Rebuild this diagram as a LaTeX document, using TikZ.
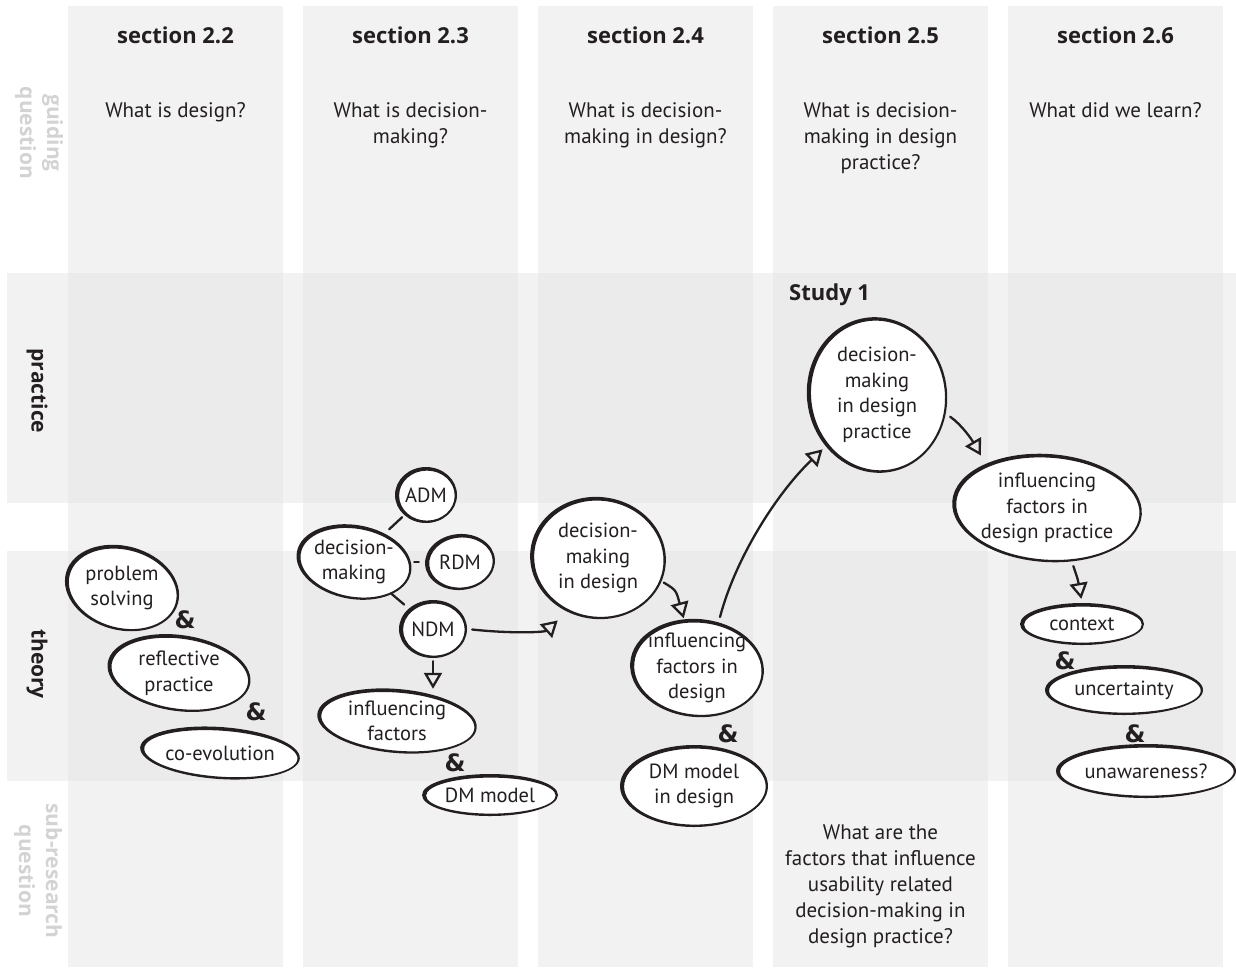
\documentclass[tikz,border=0pt]{standalone}
\usepackage{fontspec}
\setmainfont{PT Sans}
\newfontfamily\headfont{Open Sans}
\newfontfamily\ampfont{DejaVu Sans}
\usetikzlibrary{arrows.meta, shapes.geometric}

\definecolor{ink}{HTML}{231F20}
\definecolor{lane}{HTML}{F2F2F2}
\definecolor{cross}{HTML}{EBEBEB}
\definecolor{faint}{HTML}{D3D3D3}

\tikzset{
  head/.style={font=\headfont\bfseries\fontsize{22}{26}\selectfont, text=ink, inner sep=0pt, anchor=base},
  question/.style={font=\fontsize{21}{26}\selectfont, text=ink, align=center, inner sep=0pt, anchor=north},
  sidelabel/.style={font=\headfont\bfseries\fontsize{21}{27}\selectfont, align=center, rotate=-90, inner sep=0pt},
  bubble/.style={shape=ellipse, inner sep=0pt, font=\fontsize{20.5}{25.5}\selectfont, text=ink, align=center},
  link/.style={draw=ink, line width=2.3pt, line cap=round},
  flow/.style={link, -{Triangle[open, length=16pt, width=18pt, line width=2.3pt]}},
  amp/.style={font=\ampfont\bfseries\fontsize{24}{24}\selectfont, text=ink, inner sep=0pt},
}

% ellipse with a pen-like stroke of varying thickness, plus its text node
\newcommand{\inkbubble}[7]{% name, x, y, rx, ry, tilt, text
  \fill[white, rotate around={#6:(#2,#3)}] (#2,#3) ellipse [x radius=#4pt, y radius=#5pt];
  \fill[ink, even odd rule, rotate around={#6:(#2,#3)}]
    (#2,#3) ellipse [x radius=#4pt, y radius=#5pt]
    (#2+0.9,#3+0.6) ellipse [x radius=#4pt-3.2pt, y radius=#5pt-3pt];
  \node[bubble, minimum width=2*#4pt, minimum height=2*#5pt] (#1) at (#2,#3) {#7};
}

\begin{document}
\begin{tikzpicture}[x=1pt, y=-1pt]
\useasboundingbox (0,0) rectangle (1236,967);
\fill[white] (0,0) rectangle (1236,967);

% horizontal lanes: practice and theory
\fill[lane] (7,273) rectangle (1236,503);
\fill[lane] (7,551) rectangle (1236,781);

% section columns and their crossings with the lanes
\foreach \l in {68,303,538,773,1008} {
  \fill[lane] (\l,6) rectangle ({\l+215},967);
  \fill[cross] (\l,273) rectangle ({\l+215},503);
  \fill[cross] (\l,551) rectangle ({\l+215},781);
}

% row labels
\node[sidelabel, text=faint] (lguide) at (39,133) {guiding\\question};
\node[sidelabel, text=ink] (lpract) at (37,391) {practice};
\node[sidelabel, text=ink] (ltheory) at (37,664) {theory};
\node[sidelabel, text=faint] (lsub) at (38,871) {sub-research\\question};

% column headers
\node[head] (h22) at (175.5,43) {section 2.2};
\node[head] (h23) at (410.5,43) {section 2.3};
\node[head] (h24) at (645.5,43) {section 2.4};
\node[head] (h25) at (880.5,43) {section 2.5};
\node[head] (h26) at (1115.5,43) {section 2.6};

% guiding questions
\node[question] (q22) at (175.5,102) {What is design?};
\node[question] (q23) at (410.5,102) {What is decision-\\making?};
\node[question] (q24) at (645.5,102) {What is decision-\\making in design?};
\node[question] (q25) at (880.5,102) {What is decision-\\making in design\\practice?};
\node[question] (q26) at (1115.5,102) {What did we learn?};

% sub-research question
\node[question] (sq25) at (880.5,825) {What are the\\factors that influence\\usability related\\decision-making in\\design practice?};

\node[head, anchor=west] (study) at (789,295) {Study 1};

% section 2.2
\inkbubble{ps}{122}{588}{58}{42}{-15}{problem\\solving}
\inkbubble{rp}{179}{673}{72}{38}{-8}{reflective\\practice}
\inkbubble{coev}{220}{753}{80}{26}{-4}{co-evolution}
\node[amp] (a1) at (185,620) {\&};
\node[amp] (a2) at (256,712) {\&};

% section 2.3
\inkbubble{adm}{426}{495}{31}{28}{0}{ADM}
\inkbubble{dm}{354}{562}{58}{37}{-10}{decision-\\making}
\inkbubble{rdm}{460}{562}{35}{28}{5}{RDM}
\inkbubble{ndm}{433}{629}{34}{29}{0}{NDM}
\inkbubble{inf}{397}{721}{80}{32}{-5}{influencing\\factors}
\inkbubble{dmm}{490}{795}{68}{21}{0}{DM model}
\node[amp] (a3) at (455,763) {\&};

% section 2.4
\inkbubble{dmid}{598}{558}{68}{61}{-8}{decision-\\making\\in design}
\inkbubble{ifd}{697}{668}{67}{49}{-5}{influencing\\factors in\\design}
\inkbubble{dmmd}{694}{786}{74}{41}{0}{DM model\\in design}
\node[amp] (a4) at (728,734) {\&};

% section 2.5 / 2.6
\inkbubble{dmdp}{877}{395}{70}{78}{9}{decision-\\making\\in design\\practice}
\inkbubble{ifdp}{1047}{508}{95}{54}{-4}{influencing\\factors in\\design practice}
\inkbubble{ctx}{1082}{624}{62}{21}{0}{context}
\inkbubble{unc}{1124}{690}{79}{25}{0}{uncertainty}
\inkbubble{unaw}{1146}{771}{90}{27}{0}{unawareness?}
\node[amp] (a5) at (1065,661) {\&};
\node[amp] (a6) at (1135,734) {\&};

% connectors
\draw[link, shorten <=3pt, shorten >=3pt] (adm) -- (dm);
\draw[link, shorten <=2pt, shorten >=6pt] (dm) -- (rdm);
\draw[link, shorten <=3pt, shorten >=6pt] (dm) -- (ndm);
\draw[flow, shorten <=3pt, shorten >=0pt] (ndm.south) -- (ndm.south |- inf.north);
\draw[flow, shorten <=5pt, shorten >=12pt] (ndm.east) .. controls (515,634) and (545,632) .. (dmid.240);
\draw[flow, shorten <=3pt, shorten >=1pt] (dmid.-20) .. controls (676,590) .. (ifd.105);
\draw[flow, shorten <=4pt, shorten >=3pt] (ifd.65) .. controls (735,560) and (775,495) .. (dmdp.225);
\draw[flow, shorten <=6pt, shorten >=12pt] (dmdp.-15) .. controls (962,425) and (972,440) .. (ifdp.145);
\draw[flow, shorten <=6pt, shorten >=4pt] (ifdp.-65) .. controls (1078,580) .. (ctx.north);
\end{tikzpicture}
\end{document}
